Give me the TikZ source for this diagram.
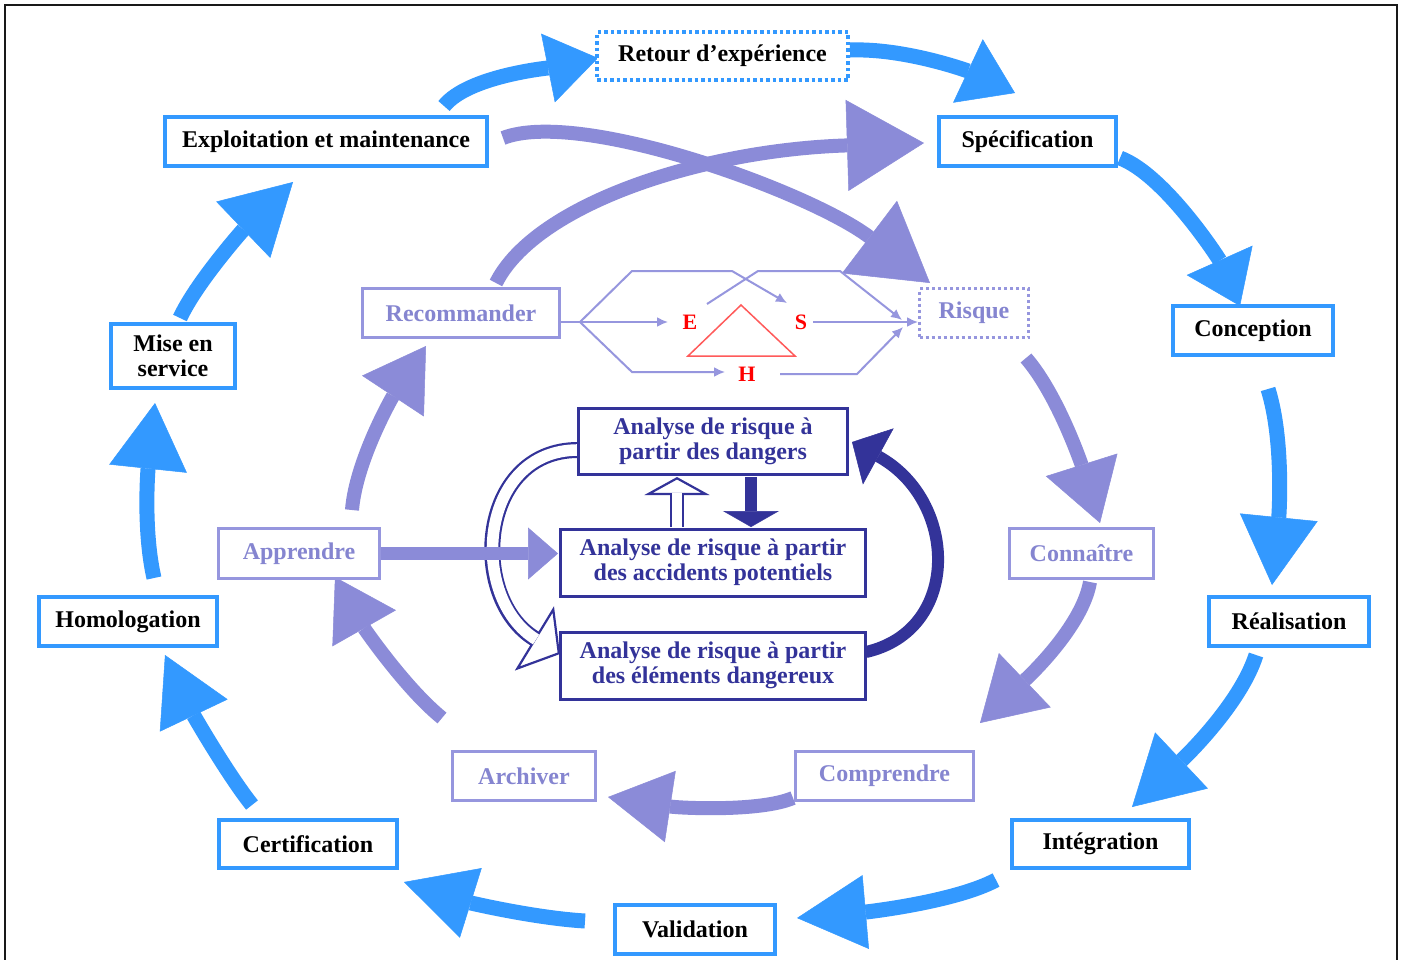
\documentclass[tikz,border=0pt]{standalone}
\usepackage{fontspec}
\setmainfont{Liberation Serif}
\usetikzlibrary{arrows.meta,backgrounds}
\definecolor{bl}{HTML}{3399FF}
\definecolor{pu}{HTML}{8B8BD8}
\definecolor{pub}{HTML}{9696DE}
\definecolor{put}{HTML}{8585D0}
\definecolor{nv}{HTML}{333399}
\definecolor{rd}{HTML}{FF0000}
\definecolor{rdl}{HTML}{FF5A5A}
\begin{document}
\begin{tikzpicture}[x=1pt,y=-1pt,
  txt/.style={font=\fontsize{24}{25}\selectfont\bfseries, align=center, inner sep=0pt},
  bbox/.style={txt, draw=bl, line width=3.5pt, fill=white, text=black},
  pbox/.style={txt, draw=pub, line width=3pt, fill=white, text=put},
  nbox/.style={txt, draw=nv, line width=3pt, fill=white, text=nv},
  sz/.style 2 args={minimum width=#1pt, minimum height=#2pt},
  hd/.style 2 args={-{Triangle[width=#1pt,length=#2pt,line width=0.5pt]}},
  ohd/.style 2 args={-{Triangle[open,fill=white,width=#1pt,length=#2pt,line width=2.2pt]}},
  barrow/.style={draw=bl, line width=15pt},
  parrow/.style={draw=pu, line width=14pt},
  narrow/.style={draw=nv, line width=12pt},
  hexl/.style={draw=pub, line width=2pt},
  hexa/.style={hexl, -{Latex[length=11pt,width=10pt]}},
  letter/.style={font=\fontsize{22}{22}\selectfont\bfseries, text=rd, inner sep=0pt}
]
\useasboundingbox (0,0) rectangle (1402,959);

% ---- blue cycle boxes
\node[bbox, sz={251}{48}, dash pattern=on 3.5pt off 3pt] (retour) at (722.5,56) {Retour d’expérience};
\node[bbox, sz={322}{49}] (expl) at (326,141.5) {Exploitation et maintenance};
\node[bbox, sz={177}{49}] (spec) at (1027.5,141.5) {Spécification};
\node[bbox, sz={160}{49}] (conc) at (1253,330.5) {Conception};
\node[bbox, sz={160}{49}] (real) at (1289,621.5) {Réalisation};
\node[bbox, sz={177}{48}] (integ) at (1100.5,844) {Intégration};
\node[bbox, sz={160}{49}] (valid) at (695,929.5) {Validation};
\node[bbox, sz={178}{48}] (cert) at (308,844) {Certification};
\node[bbox, sz={178}{49}] (homol) at (128,621.5) {Homologation};
\node[bbox, sz={124}{64}] (mise) at (173,356) {Mise en\\service};

% ---- purple boxes
\node[pbox, sz={197}{49}] (recom) at (461,313) {Recommander};
\node[pbox, sz={109}{49}, dash pattern=on 3pt off 3pt] (risque) at (974,313) {Risque};
\node[pbox, sz={144}{50}] (conn) at (1081.5,553.5) {Connaître};
\node[pbox, sz={178}{49}] (compr) at (884.5,776) {Comprendre};
\node[pbox, sz={143}{49}] (arch) at (524,776) {Archiver};
\node[pbox, sz={161}{50}] (appr) at (299,553.5) {Apprendre};

% ---- navy boxes
\node[nbox, sz={269}{66}] (dang) at (713,441.5) {Analyse de risque à\\partir des dangers};
\node[nbox, sz={305}{67}] (acc) at (713,562.5) {Analyse de risque à partir\\des accidents potentiels};
\node[nbox, sz={305}{67}] (elem) at (713,665.5) {Analyse de risque à partir\\des éléments dangereux};

% ---- E S H
\node[letter] (E) at (690,322) {E};
\node[letter] (S) at (801,322) {S};
\node[letter] (H) at (747,374) {H};

\begin{scope}[on background layer]
\fill[white] (0,0) rectangle (1402,959);
% blue cycle arrows
\draw[barrow, hd={70}{51}] ([shift={(118,-35.5)}]expl.center) .. controls (468,76) and (548,68) .. ([shift={(-124.5,2)}]retour.center);
\draw[barrow, hd={70}{52}] ([shift={(127.5,-6)}]retour.center) .. controls (905,48) and (968,71) .. ([shift={(-12.5,-48.5)}]spec.center);
\draw[barrow, hd={72}{50}] ([shift={(92.5,16.5)}]spec.center) .. controls (1165,175) and (1219,259) .. ([shift={(-13,-24.5)}]conc.center);
\draw[barrow, hd={78}{68}] ([shift={(15,58.5)}]conc.center) .. controls (1284,440) and (1279,515) .. ([shift={(-17,-36.5)}]real.center);
\draw[barrow, hd={77}{68}] ([shift={(-33,33.5)}]real.center) .. controls (1240,705) and (1183,759) .. ([shift={(31.5,-37)}]integ.center);
\draw[barrow, hd={74}{69}] ([shift={(-104.5,36)}]integ.center) .. controls (955,902) and (866,912) .. ([shift={(102,-11.5)}]valid.center);
\draw[barrow, hd={73}{70}] ([shift={(-110,-8.5)}]valid.center) .. controls (535,918) and (471,903) .. ([shift={(96,38)}]cert.center);
\draw[barrow, hd={75}{67}] ([shift={(-56,-39)}]cert.center) .. controls (228,775) and (194,716) .. ([shift={(37,33.5)}]homol.center);
\draw[barrow, hd={78}{66}] ([shift={(26,-43.5)}]homol.center) .. controls (143,530) and (148,469) .. ([shift={(-18,47)}]mise.center);
\draw[barrow, hd={78}{69}] ([shift={(7,-38)}]mise.center) .. controls (196,283) and (243,230) .. ([shift={(-33,40.5)}]expl.center);
% purple arrows
\draw[parrow, hd={91}{76}] ([shift={(177,-3.5)}]expl.center) .. controls (580,108) and (810,192) .. ([shift={(-44,-30)}]risque.center);
\draw[parrow, hd={91}{77}] ([shift={(35,-30)}]recom.center) .. controls (535,205) and (700,150) .. ([shift={(-103.5,1.5)}]spec.center);
\draw[parrow, hd={75}{61}] ([shift={(52,45)}]risque.center) .. controls (1058,395) and (1082,466) .. ([shift={(18.5,-30.5)}]conn.center);
\draw[parrow, hd={75}{62}] ([shift={(8.5,28.5)}]conn.center) .. controls (1082,628) and (1025,680) .. ([shift={(95.5,-53)}]compr.center);
\draw[parrow, hd={72}{63}] ([shift={(-91.5,22)}]compr.center) .. controls (760,812) and (680,808) .. ([shift={(84,21)}]arch.center);
\draw[parrow, hd={73}{59}] ([shift={(-82,-58)}]arch.center) .. controls (405,688) and (364,628) .. ([shift={(36,23.5)}]appr.center);
\draw[parrow, hd={74}{60}] ([shift={(53,-43.5)}]appr.center) .. controls (356,460) and (393,396) .. ([shift={(-35,33)}]recom.center);
% navy arrows
\draw[narrow, hd={64}{30}] ([shift={(153,-13.5)}]elem.center) .. controls (962,630) and (958,500) .. ([shift={(139,0.5)}]dang.center);
\draw[narrow, hd={56}{16}] ([shift={(38,35.5)}]dang.center) -- ([shift={(38,-35.5)}]acc.center);
% hollow up arrow
\draw[nv, line width=14pt, ohd={65}{18}] ([shift={(-36,-35.5)}]acc.center) -- ([shift={(-36,35.5)}]dang.center);
\draw[white, line width=9.6pt, shorten >=16pt] ([shift={(-36,-35.5)}]acc.center) -- ([shift={(-36,35.5)}]dang.center);
% hollow curved arrow
\draw[nv, line width=16pt, ohd={75}{30}] ([shift={(-135,8.5)}]dang.center) .. controls (478,450) and (468,598) .. ([shift={(-153,-11.5)}]elem.center);
\draw[white, line width=11.6pt, shorten >=28pt] ([shift={(-135,8.5)}]dang.center) .. controls (478,450) and (468,598) .. ([shift={(-153,-11.5)}]elem.center);
% straight purple arrow
\draw[parrow, line width=13pt, hd={52}{30}] ([shift={(82,0)}]appr.center) -- ([shift={(-155,-9)}]acc.center);
\end{scope}

% ---- hexagon flows
\coordinate (hl) at (580,322);
\draw[hexl] ([shift={(0,9)}]recom.east) -- (hl);
\draw[hexa] (hl) -- (632,271) -- (732,271) -- (787,303);
\draw[hexa] (hl) -- ([shift={(-22,0)}]E.center);
\draw[hexa] (hl) -- (632,372) -- ([shift={(-22,-2)}]H.center);
\draw[hexa] ([shift={(17,-18)}]E.center) -- (758,271) -- (840,271) -- (902,320);
\draw[hexa] ([shift={(12,0)}]S.center) -- ([shift={(0,9)}]risque.west);
\draw[hexa] ([shift={(33,0)}]H.center) -- (857,374) -- (903,327);
\draw[rdl, line width=1.5pt] (741,305) -- (688,356) -- (795,356) -- cycle;

% ---- frame
\draw[line width=2.5pt, black!90] (5,975) -- (5,5) -- (1397,5) -- (1397,975);
\end{tikzpicture}
\end{document}
